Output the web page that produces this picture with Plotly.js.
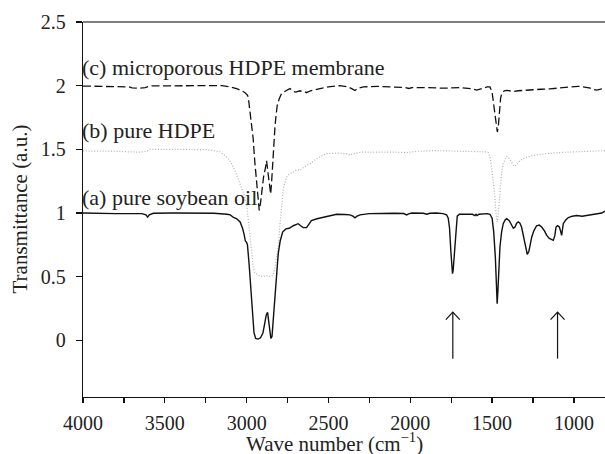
<!DOCTYPE html>
<html>
<head>
<meta charset="utf-8">
<script src="https://cdn.plot.ly/plotly-3.0.1.min.js"></script>
<style>html,body{margin:0;padding:0;background:#fff;}#chart{width:605px;height:454px;}</style>
</head>
<body>
<div id="chart"></div>
<script>
// (a) pure soybean oil
const wnA = [4000,3900,3800,3700,3640,3615,3605,3595,3570,3450,3300,3200,3120,3100,3080,3060,3040,3025,3015,3008,3000,2995,2985,2975,2965,2955,2945,2930,2915,2900,2890,2880,2872,2865,2860,2852,2845,2835,2827,2815,2807,2795,2780,2760,2740,2715,2695,2685,2670,2654,2634,2620,2604,2570,2532,2490,2450,2400,2369,2350,2338,2325,2307,2250,2165,2100,2040,2022,2010,1990,1920,1900,1880,1840,1800,1778,1768,1760,1752,1745,1742,1738,1730,1722,1713,1700,1660,1620,1605,1598,1592,1580,1530,1513,1500,1490,1480,1474,1469,1464,1458,1452,1442,1432,1420,1411,1395,1381,1370,1360,1350,1340,1330,1320,1305,1295,1285,1275,1265,1258,1245,1228,1212,1197,1180,1166,1150,1136,1126,1117,1109,1100,1089,1082,1075,1070,1065,1050,1034,1010,983,950,922,900,861,830,810];
const tA  = [1.00,0.995,0.995,0.995,0.995,0.985,0.968,0.985,0.998,1.0,1.0,0.998,0.99,0.985,0.965,0.955,0.93,0.88,0.83,0.78,0.77,0.75,0.6,0.4,0.2,0.06,0.015,0.01,0.02,0.06,0.13,0.2,0.22,0.15,0.06,0.015,0.03,0.2,0.37,0.58,0.68,0.78,0.85,0.875,0.88,0.9,0.91,0.916,0.9,0.885,0.885,0.91,0.94,0.955,0.968,0.98,0.99,0.988,0.985,0.975,0.962,0.975,0.985,0.995,1.0,0.998,0.996,0.985,0.993,1.0,0.998,0.99,0.998,1.0,0.995,0.985,0.96,0.88,0.7,0.55,0.524,0.55,0.7,0.88,0.975,0.99,0.99,0.99,0.98,0.99,0.98,0.99,0.995,0.99,0.96,0.85,0.65,0.45,0.288,0.4,0.6,0.733,0.85,0.916,0.945,0.955,0.94,0.91,0.88,0.89,0.92,0.93,0.92,0.89,0.8,0.72,0.675,0.7,0.77,0.81,0.86,0.9,0.905,0.89,0.86,0.824,0.8,0.79,0.785,0.82,0.89,0.9,0.89,0.86,0.824,0.87,0.916,0.945,0.964,0.975,0.98,0.975,0.98,0.985,0.99,1.0,1.015];

// (b) pure HDPE
const wnB = [4000,3900,3800,3712,3650,3609,3590,3400,3242,3205,3163,3130,3102,3070,3040,3015,3000,2990,2980,2970,2960,2950,2939,2920,2900,2880,2860,2840,2830,2820,2807,2797,2787,2775,2756,2735,2715,2695,2674,2650,2613,2590,2572,2540,2511,2450,2409,2385,2369,2350,2300,2205,2100,2022,1950,1850,1757,1600,1530,1520,1510,1500,1493,1483,1475,1469,1463,1457,1452,1442,1432,1420,1411,1395,1381,1368,1361,1345,1330,1300,1249,1200,1147,1080,1004,900,841,810];
const tB  = [1.487,1.487,1.485,1.48,1.478,1.485,1.5,1.5,1.497,1.49,1.48,1.45,1.41,1.33,1.23,1.14,1.073,0.95,0.785,0.66,0.575,0.53,0.52,0.505,0.5,0.51,0.5,0.51,0.55,0.62,0.733,0.9,1.07,1.2,1.283,1.31,1.32,1.34,1.335,1.36,1.388,1.41,1.427,1.45,1.466,1.47,1.47,1.465,1.453,1.465,1.478,1.48,1.478,1.475,1.485,1.49,1.488,1.483,1.48,1.47,1.42,1.33,1.256,1.125,0.98,0.93,0.98,1.1,1.2,1.32,1.388,1.43,1.445,1.43,1.4,1.37,1.367,1.39,1.41,1.435,1.453,1.462,1.47,1.475,1.48,1.485,1.49,1.49];

// (c) microporous HDPE membrane
const wnC = [4000,3800,3720,3700,3650,3620,3590,3300,3150,3100,3061,3030,3010,2995,2990,2980,2970,2960,2950,2939,2930,2923,2915,2905,2895,2888,2878,2868,2860,2853,2847,2841,2834,2827,2820,2813,2800,2787,2760,2735,2715,2700,2674,2650,2634,2610,2552,2500,2430,2380,2355,2338,2320,2287,2200,2100,2030,2008,1990,1900,1800,1700,1620,1594,1570,1530,1513,1500,1490,1480,1473,1468,1462,1455,1448,1441,1425,1411,1390,1370,1340,1300,1249,1200,1147,1100,1045,974,943,900,883,860,830,810];
const tC  = [1.997,1.995,1.99,1.982,1.98,1.985,1.998,2.0,2.0,1.99,1.977,1.96,1.945,1.925,1.91,1.8,1.68,1.584,1.4,1.243,1.12,1.02,1.08,1.2,1.3,1.335,1.41,1.3,1.2,1.15,1.25,1.41,1.55,1.675,1.77,1.846,1.9,1.937,1.96,1.977,1.955,1.95,1.96,1.955,1.945,1.96,1.977,1.99,2.0,1.99,1.975,1.962,1.98,1.99,1.995,1.99,1.985,1.978,1.985,1.985,1.98,1.985,1.975,1.965,1.975,1.99,1.99,1.95,1.85,1.75,1.67,1.636,1.68,1.8,1.9,1.94,1.96,1.963,1.96,1.955,1.96,1.965,1.97,1.972,1.975,1.98,1.99,1.995,1.99,1.98,1.97,1.965,1.975,1.975];

const curveLabels = ['(c) microporous HDPE membrane', '(b) pure HDPE', '(a) pure soybean oil'];
const labelY = [2.14, 1.649, 1.125];

const arrowX = [1740, 1100];
const arrowTipY = 0.222;
const arrowTailY = -0.144;

const xTitle = 'Wave number (cm<sup>−1</sup>)';
const yTitle = 'Transmittance (a.u.)';
const yTickVals = [0,0.5,1,1.5,2,2.5];
const yTickText = ['0','0.5','1','1.5','2','2.5'];

const serif = 'Liberation Serif, DejaVu Serif, serif';

const traces = [
  {x: wnB, y: tB, mode: 'lines', name: 'pure HDPE',
   line: {color: '#b0b0b0', width: 1.2, dash: '1px,1.8px'}},
  {x: wnC, y: tC, mode: 'lines', name: 'microporous HDPE membrane',
   line: {color: '#111', width: 1.3, dash: '8px,3.5px'}},
  {x: wnA, y: tA, mode: 'lines', name: 'pure soybean oil',
   line: {color: '#111', width: 1.4}}
];

const shapes = [
  {type: 'line', xref: 'paper', yref: 'paper', x0: 0, x1: 1, y0: 1, y1: 1,
   line: {color: '#555', width: 1.3}}
];
arrowX.forEach(function (ax) {
  shapes.push({type: 'line', xref: 'x', yref: 'y', x0: ax, x1: ax, y0: arrowTailY, y1: arrowTipY,
               line: {color: '#111', width: 1.2}});
  shapes.push({type: 'path', xref: 'x', yref: 'y', xsizemode: 'pixel', ysizemode: 'pixel',
               xanchor: ax, yanchor: arrowTipY, path: 'M-7,-7.5L0,0L7,-7.5',
               line: {color: '#111', width: 1.2}});
});

const annotations = curveLabels.map(function (t, i) {
  return {x: 4000, y: labelY[i], xref: 'x', yref: 'y', text: t, showarrow: false, xshift: -3,
          xanchor: 'left', yanchor: 'middle', font: {family: serif, size: 22, color: '#222'}};
});
annotations.push({x: 0.481, y: 0, xref: 'paper', yref: 'paper', text: xTitle, showarrow: false,
                  xanchor: 'center', yanchor: 'bottom', yshift: -61,
                  font: {family: serif, size: 21, color: '#222'}});
annotations.push({x: 0, y: 0.5, xref: 'paper', yref: 'paper', text: yTitle, showarrow: false,
                  textangle: -90, xanchor: 'center', yanchor: 'middle', xshift: -64,
                  font: {family: serif, size: 21, color: '#222'}});

const layout = {
  width: 605, height: 454,
  margin: {l: 83, r: 0, t: 22, b: 57},
  paper_bgcolor: '#fff', plot_bgcolor: '#fff',
  showlegend: false,
  font: {family: serif, size: 20, color: '#222'},
  xaxis: {
    range: [4000, 810], tickmode: 'linear', tick0: 0, dtick: 500,
    ticks: 'outside', ticklen: 5, tickwidth: 1.2, tickcolor: '#111', ticklabelstandoff: 3,
    minor: {tickmode: 'linear', tick0: 0, dtick: 250, ticks: 'outside', ticklen: 5, tickwidth: 1.2, tickcolor: '#111', showgrid: false},
    showline: true, linecolor: '#111', linewidth: 1.3,
    showgrid: false, zeroline: false,
    tickfont: {family: serif, size: 20, color: '#222'}
  },
  yaxis: {
    range: [-0.445, 2.5], tickvals: yTickVals, ticktext: yTickText,
    ticks: 'outside', ticklen: 6, tickwidth: 1.2, tickcolor: '#111', ticklabelstandoff: 6,
    showline: true, linecolor: '#111', linewidth: 1.3,
    showgrid: false, zeroline: false,
    tickfont: {family: serif, size: 20, color: '#222'}
  },
  shapes: shapes,
  annotations: annotations
};

Plotly.newPlot('chart', traces, layout, {staticPlot: true, displayModeBar: false});
</script>
</body>
</html>
